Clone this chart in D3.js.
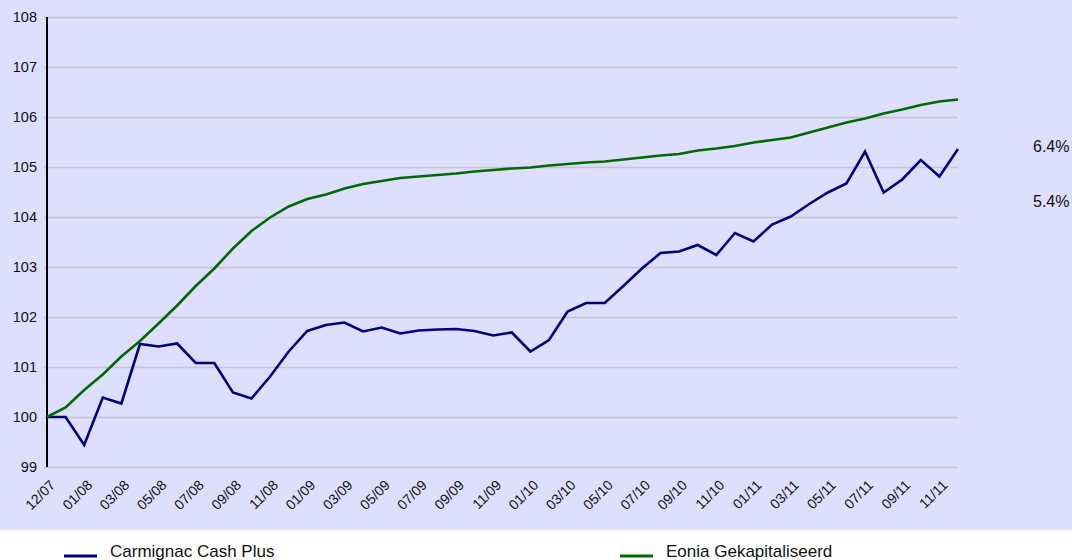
<!DOCTYPE html>
<html lang="nl">
<head>
    <meta charset="UTF-8">
    <title>Carmignac Cash Plus vs Eonia</title>
    <script src="https://d3js.org/d3.v7.min.js"></script>
    <style>
        body { margin: 0; background: #ffffff; font-family: 'Liberation Sans', Arial, sans-serif; }
        svg { display: block; }
        .grid line { stroke: #c4c4cc; stroke-width: 1.5; }
        .grid path { display: none; }
    </style>
</head>
<body>
    <svg width="1072" height="560"></svg>

    <script>
        // tick labels, one for every second point
        const tickLabels = ["12/07","01/08","03/08","05/08","07/08","09/08","11/08",
            "01/09","03/09","05/09","07/09","09/09","11/09",
            "01/10","03/10","05/10","07/10","09/10","11/10",
            "01/11","03/11","05/11","07/11","09/11","11/11"];

        const carmignac = [100.00,100.00,99.44,100.39,100.27,101.46,101.41,101.47,101.08,101.08,
            100.49,100.37,100.81,101.31,101.72,101.84,101.89,101.71,101.79,101.67,
            101.73,101.75,101.76,101.72,101.63,101.69,101.31,101.54,102.11,102.28,
            102.28,102.62,102.97,103.28,103.31,103.44,103.24,103.68,103.51,103.85,
            104.01,104.26,104.49,104.67,105.31,104.49,104.75,105.14,104.81,105.36];

        const eonia = [100.00,100.19,100.54,100.85,101.21,101.52,101.87,102.23,102.62,102.97,
            103.37,103.72,103.99,104.21,104.36,104.45,104.57,104.66,104.72,104.78,
            104.81,104.84,104.87,104.91,104.94,104.97,104.99,105.03,105.06,105.09,
            105.11,105.15,105.19,105.23,105.26,105.33,105.37,105.42,105.49,105.54,
            105.59,105.69,105.79,105.89,105.97,106.07,106.15,106.24,106.31,106.35];

        const seriesNames = ["Carmignac Cash Plus", "Eonia Gekapitaliseerd"];
        const endLabels = ["6.4%", "5.4%"];
        const yTicks = [99,100,101,102,103,104,105,106,107,108];

        const svg = d3.select("svg");
        const margin = { top: 17, right: 114, bottom: 93, left: 47 };
        const W = 1072, H = 560;
        const width = W - margin.left - margin.right;
        const height = H - margin.top - margin.bottom;

        // lavender backdrop for the plot part
        svg.append("rect")
           .attr("x", 0).attr("y", 0)
           .attr("width", W).attr("height", 530)
           .attr("fill", "#dedeff");

        const x = d3.scaleLinear()
                    .domain([0, carmignac.length - 1])
                    .range([margin.left, W - margin.right]);

        const y = d3.scaleLinear()
                    .domain([99, 108])
                    .range([margin.top + height, margin.top]);

        // horizontal gridlines
        svg.append("g")
           .attr("class", "grid")
           .attr("transform", `translate(${margin.left},0)`)
           .call(d3.axisLeft(y).tickValues(yTicks).tickSize(-width).tickFormat(""))
           .selectAll("line")
           .attr("x1", -3);

        // y labels
        svg.append("g")
           .selectAll("text")
           .data(yTicks)
           .enter()
           .append("text")
           .attr("x", 37)
           .attr("y", d => y(d))
           .attr("dy", "0.36em")
           .attr("text-anchor", "end")
           .style("font-size", "14.5px")
           .attr("fill", "#111")
           .text(d => d);

        // left axis line
        svg.append("line")
           .attr("x1", margin.left).attr("x2", margin.left)
           .attr("y1", y(108)).attr("y2", y(99))
           .attr("stroke", "#000").attr("stroke-width", 2);

        // x labels (every second point)
        const xTickIdx = tickLabels.map((d, i) => i * 2);
        svg.append("g")
           .selectAll("text")
           .data(xTickIdx)
           .enter()
           .append("text")
           .attr("transform", d => `translate(${x(d) + 9},${y(99) + 19}) rotate(-45)`)
           .attr("text-anchor", "end")
           .style("font-size", "14px")
           .attr("fill", "#111")
           .text((d, i) => tickLabels[i]);

        // lines
        const line = d3.line()
                       .x((d, i) => x(i))
                       .y(d => y(d));

        const colors = ["#000080", "#006a00"];
        [carmignac, eonia].forEach((s, k) => {
            svg.append("path")
               .datum(s)
               .attr("fill", "none")
               .attr("stroke", colors[k])
               .attr("stroke-width", 2.6)
               .attr("stroke-linejoin", "miter")
               .attr("d", line);
        });

        // end-value labels on the right
        svg.selectAll(".endLabel")
           .data(endLabels)
           .enter()
           .append("text")
           .attr("class", "endLabel")
           .attr("x", 1033)
           .attr("y", (d, i) => [146, 201][i])
           .attr("dy", "0.36em")
           .style("font-size", "16px")
           .attr("fill", "#111")
           .text(d => d);

        // legend
        const legendX = [64, 620];
        const legend = svg.selectAll(".legend")
                          .data(seriesNames)
                          .enter()
                          .append("g")
                          .attr("class", "legend")
                          .attr("transform", (d, i) => `translate(${legendX[i]},556)`);
        legend.append("line")
              .attr("x1", 0).attr("x2", 33)
              .attr("stroke", (d, i) => colors[i])
              .attr("stroke-width", 3);
        legend.append("text")
              .attr("x", 46)
              .attr("y", 1)
              .style("font-size", "17px")
              .attr("fill", "#111")
              .text(d => d);
    </script>
</body>
</html>
